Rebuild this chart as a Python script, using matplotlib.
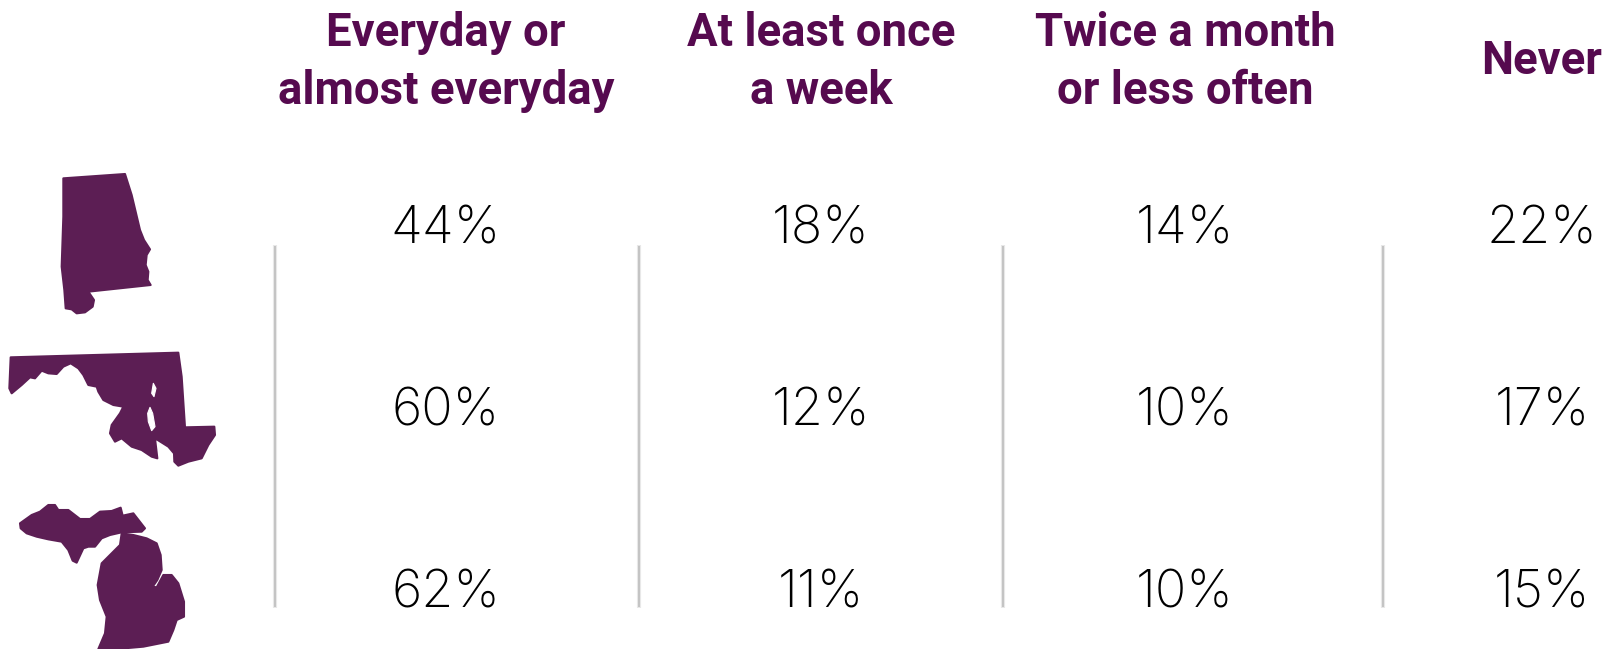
#!/usr/bin/env python3
import matplotlib
matplotlib.use('Agg')
import matplotlib.pyplot as plt
from matplotlib.patches import Polygon

# Datos de la tabla
columnas = ["Everyday or\nalmost everyday", "At least once\na week", "Twice a month\nor less often", "Never"]
alabama = [44, 18, 14, 22]
maryland = [60, 12, 10, 17]
michigan = [62, 11, 10, 15]
filas = [alabama, maryland, michigan]

col_x = [446, 821, 1185, 1542]
fila_y = [230, 412, 594]
sep_x = [275, 639, 1003, 1383]

MORADO_TXT = "#560a4f"
MORADO = "#5c1e54"

sil_alabama = [(190,85),(375,72),(395,135),(420,240),(432,270),(450,298),(440,315),(437,345),(445,365),
               (443,390),(452,405),(265,425),(282,450),(278,470),(255,487),(230,490),(215,478),(197,475),
               (193,420),(185,350),(190,200)]
sil_maryland = [(32,622),(535,608),(545,680),(555,832),(643,830),(645,855),(625,885),(605,925),(565,935),
                (535,947),(523,935),(522,910),(505,890),(470,868),(465,865),(472,925),(455,920),(425,900),
                (395,890),(365,865),(345,875),(330,850),(335,825),(360,790),(370,770),(340,765),(310,750),
                (295,725),(290,710),(265,705),(250,675),(235,655),(212,640),(190,650),(170,672),(145,670),
                (125,662),(105,685),(90,682),(65,705),(35,730),(28,715)]
hueco_md1 = [(460,700),(468,715),(462,740),(455,730)]
hueco_md2 = [(450,772),(458,790),(465,830),(455,842),(445,815),(443,790)]
sil_mi_norte = [(60,1120),(95,1095),(120,1085),(145,1065),(165,1065),(175,1080),(205,1080),(240,1107),
                (270,1107),(300,1085),(335,1083),(362,1073),(368,1097),(400,1090),(435,1135),(425,1145),
                (365,1147),(330,1155),(305,1165),(285,1190),(265,1190),(250,1195),(230,1238),(218,1232),
                (205,1200),(185,1175),(145,1168),(110,1160),(80,1150),(62,1135)]
sil_mi_sur = [(365,1150),(400,1155),(440,1165),(470,1180),(482,1215),(485,1260),(472,1290),(458,1310),
              (470,1312),(490,1275),(515,1275),(535,1300),(552,1355),(552,1400),(530,1410),(520,1440),
              (505,1475),(430,1490),(350,1497),(295,1497),(315,1450),(320,1400),(300,1350),(293,1305),
              (305,1240),(330,1215),(360,1185)]


def a_pixel(puntos):
    # pasa de coordenadas del recorte a pixeles de la figura
    return [(x / 3, 150 + y / 3) for x, y in puntos]


fig = plt.figure(figsize=(16.14, 6.49), dpi=100)
ax = fig.add_axes([0, 0, 1, 1])
ax.set_xlim(0, 1614)
ax.set_ylim(649, 0)
ax.axis("off")

for sil in [sil_alabama, sil_maryland, sil_mi_norte, sil_mi_sur]:
    ax.add_patch(Polygon(a_pixel(sil), closed=True, facecolor=MORADO, edgecolor=MORADO,
                         linewidth=1.5, joinstyle="round"))
for hueco in [hueco_md1, hueco_md2]:
    ax.add_patch(Polygon(a_pixel(hueco), closed=True, facecolor="white", edgecolor="white",
                         linewidth=0.8, joinstyle="round"))

# Separadores verticales con un poco de difuminado
for x in sep_x:
    ax.plot([x, x], [245, 608], color="#e8e8e8", lw=3.0, solid_capstyle="butt")
    ax.plot([x, x], [246, 607], color="#c4c4c4", lw=1.4, solid_capstyle="butt")

# Cabeceras
for x, texto in zip(col_x, columnas):
    if "\n" in texto:
        lineas = texto.split("\n")
        ax.text(x, 33, lineas[0], ha="center", va="center", fontsize=32.8, fontweight="bold",
                family="Roboto", color=MORADO_TXT)
        ax.text(x, 91, lineas[1], ha="center", va="center", fontsize=32.8, fontweight="bold",
                family="Roboto", color=MORADO_TXT)
    else:
        ax.text(x, 61, texto, ha="center", va="center", fontsize=32.8, fontweight="bold",
                family="Roboto", color=MORADO_TXT)

# Porcentajes
for fila, y in zip(filas, fila_y):
    for x, valor in zip(col_x, fila):
        ax.text(x, y, str(valor) + "%", ha="center", va="center", fontsize=37.5, fontweight="light",
                family="Inter", color="black")

fig.savefig("out.png", dpi=100, facecolor="white")
